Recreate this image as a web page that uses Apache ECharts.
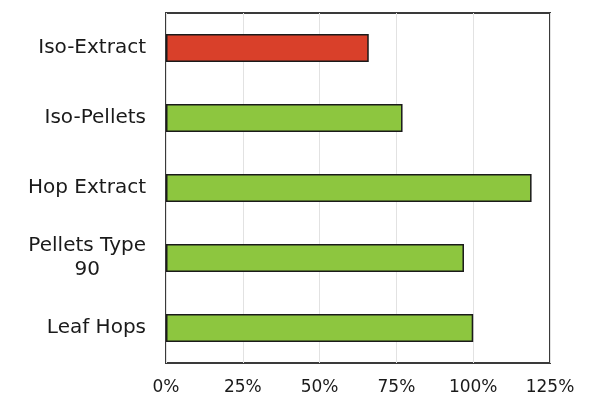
<!DOCTYPE html>
<html><head><meta charset="utf-8">
<script src="https://cdn.jsdelivr.net/npm/echarts@6/dist/echarts.min.js"></script>
<style>html,body{margin:0;padding:0;background:#fff}#c{width:590px;height:396px}</style>
</head><body><div id="c"></div>
<script>
const categories = ["Iso-Extract", "Iso-Pellets", "Hop Extract", "Pellets Type\n90", "Leaf Hops"];
const values = [66, 77, 119, 97, 100];
const barColors = ["#d9402a", "#8dc63f", "#8dc63f", "#8dc63f", "#8dc63f"];
const xTicks = [0, 25, 50, 75, 100, 125];

const chart = echarts.init(document.getElementById('c'), null, {renderer: 'canvas'});
chart.setOption({
  animation: false,
  grid: {left: 166, right: 40, top: 13, bottom: 32, show: true, borderColor: '#3a3a3a', borderWidth: 2, backgroundColor: 'transparent'},
  xAxis: {
    type: 'value', min: xTicks[0], max: xTicks[xTicks.length-1], interval: 25,
    axisLine: {show: false}, axisTick: {show: false},
    splitLine: {show: true, lineStyle: {color: '#e2e2e2', width: 1}},
    axisLabel: {formatter: v => v + '%', color: '#1a1a1a', fontSize: 17, fontFamily: 'DejaVu Sans', margin: 16}
  },
  yAxis: {
    type: 'category', data: categories, inverse: true,
    axisLine: {show: false}, axisTick: {show: false},
    axisLabel: {
      color: '#1a1a1a', fontSize: 20, fontFamily: 'DejaVu Sans', margin: 20, lineHeight: 24,
      formatter: v => v.indexOf('\n') >= 0 ? v.split('\n').map(s => '{c|' + s + '}').join('\n') : v,
      rich: {c: {align: 'center', fontSize: 20, fontFamily: 'DejaVu Sans', color: '#1a1a1a', lineHeight: 24}}
    }
  },
  series: [{
    type: 'bar',
    data: values.map((v, i) => ({value: v, itemStyle: {color: barColors[i]}})),
    barWidth: 28,
    itemStyle: {borderColor: '#1a1a1a', borderWidth: 1.5}
  }]
});
</script></body></html>
